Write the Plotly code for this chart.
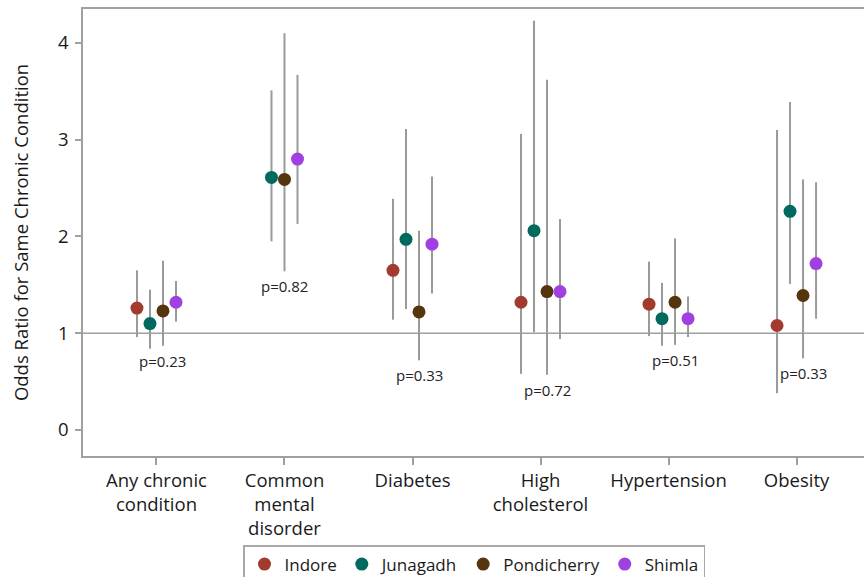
import plotly.graph_objects as go

categories = ["Any chronic<br>condition", "Common<br>mental<br>disorder", "Diabetes",
              "High<br>cholesterol", "Hypertension", "Obesity"]
sites = ["Indore", "Junagadh", "Pondicherry", "Shimla"]
colors = ["#A23A2E", "#006A5E", "#55340E", "#A040E0"]

# odds ratio estimates, lower and upper 95% CI per site (None = not estimated)
est = {
    "Indore":      [1.26, None, 1.65, 1.32, 1.30, 1.08],
    "Junagadh":    [1.10, 2.61, 1.97, 2.06, 1.15, 2.26],
    "Pondicherry": [1.23, 2.59, 1.22, 1.43, 1.32, 1.39],
    "Shimla":      [1.32, 2.80, 1.92, 1.43, 1.15, 1.72],
}
lower = {
    "Indore":      [0.96, None, 1.14, 0.58, 0.97, 0.38],
    "Junagadh":    [0.84, 1.95, 1.25, 1.01, 0.87, 1.51],
    "Pondicherry": [0.87, 1.64, 0.72, 0.57, 0.88, 0.74],
    "Shimla":      [1.12, 2.13, 1.41, 0.94, 0.96, 1.15],
}
upper = {
    "Indore":      [1.65, None, 2.39, 3.06, 1.74, 3.10],
    "Junagadh":    [1.45, 3.51, 3.11, 4.23, 1.52, 3.39],
    "Pondicherry": [1.75, 4.10, 2.06, 3.62, 1.98, 2.59],
    "Shimla":      [1.54, 3.67, 2.62, 2.18, 1.38, 2.56],
}
p_values = ["p=0.23", "p=0.82", "p=0.33", "p=0.72", "p=0.51", "p=0.33"]
y_ticks = [0, 1, 2, 3, 4]

spacing = 0.1016
# cluster positions per category, based on which sites are present
positions = {s: [None] * len(categories) for s in sites}
for ci in range(len(categories)):
    present = [s for s in sites if est[s][ci] is not None]
    n = len(present)
    for k, s in enumerate(present):
        positions[s][ci] = ci + (k - (n - 1) / 2) * spacing

fig = go.Figure()
FONT = "Open Sans"
for s, c in zip(sites, colors):
    xs, ys, up, dn = [], [], [], []
    for ci in range(len(categories)):
        if est[s][ci] is None:
            continue
        xs.append(positions[s][ci])
        ys.append(est[s][ci])
        up.append(upper[s][ci] - est[s][ci])
        dn.append(est[s][ci] - lower[s][ci])
    fig.add_trace(go.Scatter(
        x=xs, y=ys, mode="markers", name=s,
        marker=dict(color=c, size=13),
        error_y=dict(type="data", symmetric=False, array=up, arrayminus=dn,
                     color="#9a9a9a", thickness=2, width=0),
    ))

for ci, p in enumerate(p_values):
    fig.add_annotation(x=positions["Pondicherry"][ci], y=lower["Pondicherry"][ci],
                       text=p, showarrow=False, yanchor="top", xanchor="center",
                       yshift=-3, font=dict(family=FONT, size=15, color="#222222"))

fig.add_shape(type="line", xref="paper", x0=0, x1=1, yref="y", y0=1, y1=1,
              line=dict(color="#a0a0a0", width=1.5), layer="below")

fig.update_layout(
    width=864, height=577,
    margin=dict(l=83, r=0, t=9, b=121, autoexpand=False),
    plot_bgcolor="white", paper_bgcolor="white",
    font=dict(family=FONT, size=18, color="#1a1a1a"),
    showlegend=True,
    legend=dict(orientation="h", x=(243 - 83) / 781, y=-(545 - 456) / 447,
                xanchor="left", yanchor="top",
                bordercolor="#a8a8a8", borderwidth=1.5, font=dict(size=17),
                itemwidth=30),
    xaxis=dict(range=[-0.574, 5.527], tickvals=list(range(len(categories))),
               ticktext=categories, showgrid=False, zeroline=False, automargin=False,
               showline=True, linecolor="#a0a0a0", linewidth=1.5, mirror=True,
               ticks="outside", ticklen=7, tickcolor="#a0a0a0", tickwidth=1.5,
               ticklabelstandoff=0,
               tickfont=dict(size=18.5)),
    yaxis=dict(range=[-0.269, 4.351], tickvals=y_ticks, showgrid=False, zeroline=False,
               automargin=False,
               showline=True, linecolor="#a0a0a0", linewidth=1.5,
               ticks="outside", ticklen=6, tickcolor="#a0a0a0", tickwidth=1.5,
               ticklabelstandoff=3,
               tickfont=dict(size=18.5),
               title=dict(text="Odds Ratio for Same Chronic Condition", font=dict(size=18.5),
                          standoff=24)),
)

fig.write_html("out.html",
               config={"displayModeBar": False},
               post_script="var de=document.documentElement,b=document.body;"
                           "de.style.margin='0px';de.style.padding='0px';"
                           "de.style.overflow='hidden';de.style.height='577px';"
                           "b.style.margin='0px';b.style.padding='0px';"
                           "b.style.overflow='hidden';b.style.height='577px';")
